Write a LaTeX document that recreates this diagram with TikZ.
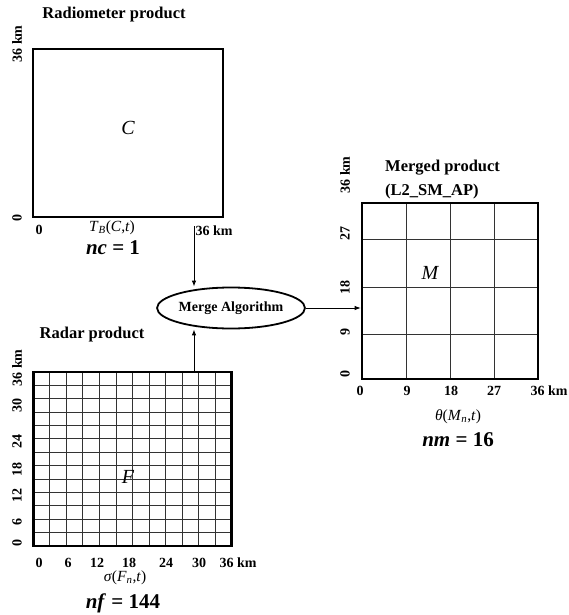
\documentclass[tikz,border=0pt]{standalone}
\usepackage{fontspec}
\setmainfont{Liberation Serif}
\usetikzlibrary{shapes.geometric,arrows.meta}
\begin{document}
\begin{tikzpicture}[x=1pt,y=-1pt,
  box/.style={draw, line width=2.6pt, inner sep=0pt},
  gridline/.style={line width=0.9pt, black!80},
  tick/.style={font=\fontsize{14}{16}\selectfont\bfseries, inner sep=0pt},
  ytick/.style={tick, rotate=90},
  title/.style={font=\fontsize{16.5}{19}\selectfont\bfseries, inner sep=0pt},
  cell/.style={font=\fontsize{20}{22}\selectfont\itshape, inner sep=0pt},
  func/.style={font=\fontsize{15.5}{17}\selectfont, inner sep=0pt},
  count/.style={font=\fontsize{21}{23}\selectfont\bfseries, inner sep=0pt},
  conn/.style={line width=0.9pt, -{Latex[length=6pt,width=4.5pt]}},
  merge/.style={ellipse, draw, line width=1.8pt, minimum width=132pt, minimum height=41pt, inner sep=0pt, font=\fontsize{14}{16}\selectfont\bfseries}
]
\useasboundingbox (0,0) rectangle (569,615);

% Radiometer product
\node[box, minimum width=190pt, minimum height=168pt] (rad) at (128,133) {};
\node[cell] (C) at (128,128) {C};
\node[title] (t1) at (114,15) {Radiometer product};
\node[ytick] (r36y) at (17,44) {36 km};
\node[ytick] (r0y) at (17,218) {0};
\node[tick] (r0x) at (39,230) {0};
\node[tick] (r36x) at (214,231) {36 km};
\node[func] (tb) at (112,228) {\textit{T}\textsubscript{\textit{B}}(\textit{C},\textit{t})};
\node[count] (nc) at (113,248) {\textit{nc} = 1};

% Radar product grid
\foreach \i in {1,...,11} {
  \pgfmathsetmacro\xx{33.3+\i*16.533}
  \draw[gridline] (\xx,372) -- (\xx,546);
}
\foreach \j in {1,...,12} {
  \pgfmathsetmacro\yy{372+\j*13.385}
  \draw[gridline] (33.3,\yy) -- (231.7,\yy);
}
\node[box, minimum width=198.4pt, minimum height=174pt] (radar) at (132.5,459) {};
\node[cell] (F) at (128,477) {F};
\node[title] (t2) at (92,335) {Radar product};
\node[ytick] at (17,368) {36 km};
\node[ytick] at (17,405) {30};
\node[ytick] at (17,441) {24};
\node[ytick] at (17,469) {18};
\node[ytick] at (17,495) {12};
\node[ytick] at (17,522) {6};
\node[ytick] at (17,543) {0};
\node[tick] at (39,563) {0};
\node[tick] at (68,563) {6};
\node[tick] at (97,563) {12};
\node[tick] at (129,563) {18};
\node[tick] at (166,563) {24};
\node[tick] at (199,563) {30};
\node[tick] at (238,563) {36 km};
\node[func] (sig) at (125,578) {\textit{σ}(\textit{F}\textsubscript{\textit{n}},\textit{t})};
\node[count] (nf) at (123,603) {\textit{nf} = 144};

% Merged product grid
\foreach \xx in {406,450,494} \draw[gridline] (\xx,203) -- (\xx,379);
\foreach \yy in {239,287,334} \draw[gridline] (362,\yy) -- (538,\yy);
\node[box, minimum width=176pt, minimum height=176pt] (merged) at (450,291) {};
\node[cell] (M) at (430,273) {M};
\node[title, anchor=west] (t3) at (385,168) {Merged product};
\node[title, anchor=west] (t4) at (385,192) {(L2\_SM\_AP)};
\node[ytick] at (345,175) {36 km};
\node[ytick] at (345,233) {27};
\node[ytick] at (345,287) {18};
\node[ytick] at (345,332) {9};
\node[ytick] at (345,374) {0};
\node[tick] at (360,391) {0};
\node[tick] at (407,391) {9};
\node[tick] at (451,391) {18};
\node[tick] at (494,391) {27};
\node[tick] at (549,391) {36 km};
\node[func] (theta) at (458,417) {\textit{θ}(\textit{M}\textsubscript{\textit{n}},\textit{t})};
\node[count] (nm) at (458,440) {\textit{nm} = 16};

% Merge algorithm and connectors
\node[merge] (alg) at (231,308) {Merge Algorithm};
\coordinate (a1) at (194,226);
\draw[conn] (a1) -- (a1 |- alg.north);
\draw[conn] (radar.north -| a1) -- (a1 |- alg.south);
\draw[conn] (alg.east) -- (merged.west |- alg.east);
\end{tikzpicture}
\end{document}
